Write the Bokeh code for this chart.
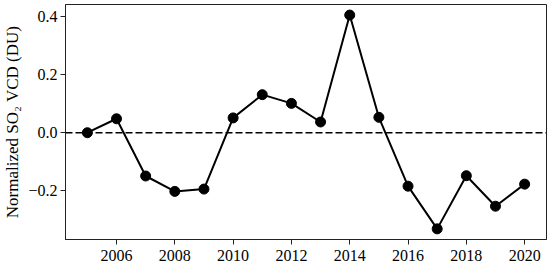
from bokeh.plotting import figure
from bokeh.models import Span, FixedTicker, CustomJSTickFormatter, Range1d
from bokeh.embed import file_html
from bokeh.resources import INLINE

years = [2005, 2006, 2007, 2008, 2009, 2010, 2011, 2012, 2013, 2014, 2015, 2016, 2017, 2018, 2019, 2020]
so2_vcd = [0.0, 0.048, -0.149, -0.202, -0.194, 0.051, 0.131, 0.101, 0.037, 0.405, 0.053, -0.184, -0.331, -0.148, -0.253, -0.177]
x_ticks = [2006, 2008, 2010, 2012, 2014, 2016, 2018, 2020]
y_ticks = [-0.2, 0.0, 0.2, 0.4]
y_label = "Normalized SO\u2082 VCD (DU)"

FONT = "Liberation Serif"

p = figure(frame_width=481, frame_height=235, output_backend="svg", toolbar_location=None,
           x_range=Range1d(2004.25, 2020.75), y_range=Range1d(-0.3676, 0.4414),
           min_border_left=55, min_border_right=5, min_border_top=4, min_border_bottom=22)

p.xgrid.visible = False
p.ygrid.visible = False
p.outline_line_color = "#222222"
p.outline_line_width = 1
p.outline_line_alpha = 1

zero = Span(location=0, dimension="width", line_color="black", line_width=1.6, line_dash="7 3")
p.add_layout(zero)

p.line(years, so2_vcd, line_color="black", line_width=2)
p.scatter(years, so2_vcd, size=10, fill_color="black", line_color="black")

for ax in (p.xaxis[0], p.yaxis[0]):
    ax.major_label_text_font = FONT
    ax.major_label_text_font_size = "16px"
    ax.major_label_text_color = "black"
    ax.axis_line_color = "#222222"
    ax.major_tick_line_color = "#222222"
    ax.major_tick_in = 0
    ax.major_tick_out = 5
    ax.minor_tick_line_color = None

p.xaxis.ticker = FixedTicker(ticks=x_ticks)
p.yaxis.ticker = FixedTicker(ticks=y_ticks)
p.yaxis.formatter = CustomJSTickFormatter(code="""
    const s = Math.abs(tick).toFixed(1);
    return tick < -1e-9 ? "\\u2212" + s : s;
""")
p.xaxis.major_label_standoff = 5
p.yaxis.major_label_standoff = 3

p.yaxis.axis_label = y_label
p.yaxis.axis_label_text_font = FONT
p.yaxis.axis_label_text_font_size = "17px"
p.yaxis.axis_label_text_font_style = "normal"
p.yaxis.axis_label_text_color = "black"
p.yaxis.axis_label_standoff = 3

open("out.html", "w").write(file_html(p, INLINE))
